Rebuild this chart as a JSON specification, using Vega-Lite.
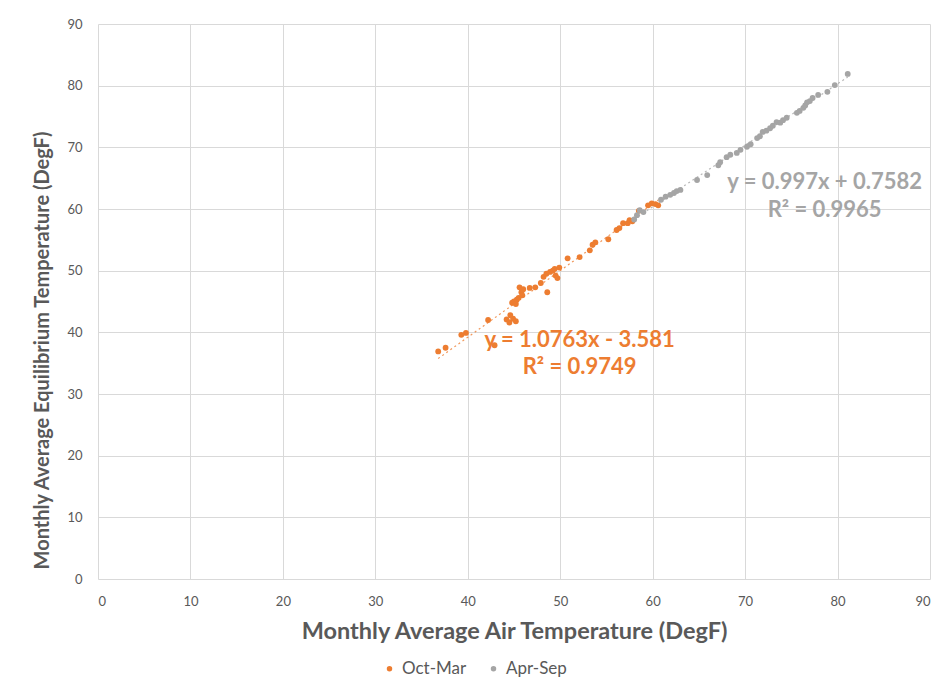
{
  "$schema": "https://vega.github.io/schema/vega-lite/v6.json",
  "autosize": {"type": "none"},
  "width": 832,
  "height": 555,
  "padding": {"left": 98, "top": 24, "right": 11, "bottom": 105},
  "background": "white",
  "config": {
    "font": "Lato",
    "view": {"stroke": null},
    "axis": {
      "gridColor": "#d9d9d9",
      "gridWidth": 1,
      "domain": false,
      "ticks": false,
      "labelColor": "#595959",
      "labelFont": "Lato",
      "labelFontSize": 13,
      "titleColor": "#595959",
      "titleFont": "Lato",
      "titleFontSize": 20,
      "titleFontWeight": "bold"
    }
  },
  "resolve": {"legend": {"color": "independent"}},
  "datasets": {
    "points": [
      {"season": "Oct-Mar", "air": 36.8, "eq": 36.9},
      {"season": "Oct-Mar", "air": 37.6, "eq": 37.5},
      {"season": "Oct-Mar", "air": 39.3, "eq": 39.6},
      {"season": "Oct-Mar", "air": 39.8, "eq": 39.9},
      {"season": "Oct-Mar", "air": 42.2, "eq": 42.0},
      {"season": "Oct-Mar", "air": 42.9, "eq": 37.9},
      {"season": "Oct-Mar", "air": 44.2, "eq": 42.1},
      {"season": "Oct-Mar", "air": 44.5, "eq": 41.6},
      {"season": "Oct-Mar", "air": 44.9, "eq": 42.2},
      {"season": "Oct-Mar", "air": 44.6, "eq": 42.8},
      {"season": "Oct-Mar", "air": 45.2, "eq": 41.8},
      {"season": "Oct-Mar", "air": 44.8, "eq": 44.8},
      {"season": "Oct-Mar", "air": 45.0, "eq": 45.0},
      {"season": "Oct-Mar", "air": 45.3, "eq": 45.3},
      {"season": "Oct-Mar", "air": 45.5, "eq": 45.6},
      {"season": "Oct-Mar", "air": 45.2, "eq": 44.6},
      {"season": "Oct-Mar", "air": 45.8, "eq": 46.5},
      {"season": "Oct-Mar", "air": 45.6, "eq": 47.3},
      {"season": "Oct-Mar", "air": 46.0, "eq": 47.0},
      {"season": "Oct-Mar", "air": 45.9, "eq": 46.0},
      {"season": "Oct-Mar", "air": 46.7, "eq": 47.2},
      {"season": "Oct-Mar", "air": 47.3, "eq": 47.3},
      {"season": "Oct-Mar", "air": 47.9, "eq": 48.0},
      {"season": "Oct-Mar", "air": 48.2, "eq": 49.0},
      {"season": "Oct-Mar", "air": 48.6, "eq": 46.5},
      {"season": "Oct-Mar", "air": 48.5, "eq": 49.5},
      {"season": "Oct-Mar", "air": 48.9, "eq": 49.8},
      {"season": "Oct-Mar", "air": 49.2, "eq": 50.0},
      {"season": "Oct-Mar", "air": 49.5, "eq": 49.2},
      {"season": "Oct-Mar", "air": 49.7, "eq": 48.8},
      {"season": "Oct-Mar", "air": 49.4, "eq": 50.3},
      {"season": "Oct-Mar", "air": 49.9, "eq": 50.5},
      {"season": "Oct-Mar", "air": 50.8, "eq": 52.0},
      {"season": "Oct-Mar", "air": 52.1, "eq": 52.2},
      {"season": "Oct-Mar", "air": 53.2, "eq": 53.3},
      {"season": "Oct-Mar", "air": 53.5, "eq": 54.2},
      {"season": "Oct-Mar", "air": 53.8, "eq": 54.6},
      {"season": "Oct-Mar", "air": 55.2, "eq": 55.1},
      {"season": "Oct-Mar", "air": 56.1, "eq": 56.6},
      {"season": "Oct-Mar", "air": 56.4, "eq": 56.9},
      {"season": "Oct-Mar", "air": 56.8, "eq": 57.7},
      {"season": "Oct-Mar", "air": 57.3, "eq": 57.7},
      {"season": "Oct-Mar", "air": 57.5, "eq": 58.2},
      {"season": "Oct-Mar", "air": 57.8, "eq": 58.0},
      {"season": "Oct-Mar", "air": 58.5, "eq": 59.7},
      {"season": "Oct-Mar", "air": 59.5, "eq": 60.6},
      {"season": "Oct-Mar", "air": 59.9, "eq": 60.9},
      {"season": "Oct-Mar", "air": 60.3, "eq": 60.8},
      {"season": "Oct-Mar", "air": 60.6, "eq": 60.6},
      {"season": "Apr-Sep", "air": 58.0, "eq": 58.3},
      {"season": "Apr-Sep", "air": 58.3, "eq": 59.0},
      {"season": "Apr-Sep", "air": 58.6, "eq": 59.8},
      {"season": "Apr-Sep", "air": 59.0, "eq": 59.5},
      {"season": "Apr-Sep", "air": 60.9, "eq": 61.5},
      {"season": "Apr-Sep", "air": 61.4, "eq": 62.0},
      {"season": "Apr-Sep", "air": 61.9, "eq": 62.3},
      {"season": "Apr-Sep", "air": 62.3, "eq": 62.6},
      {"season": "Apr-Sep", "air": 62.6, "eq": 62.9},
      {"season": "Apr-Sep", "air": 63.0, "eq": 63.1},
      {"season": "Apr-Sep", "air": 64.8, "eq": 64.7},
      {"season": "Apr-Sep", "air": 65.9, "eq": 65.5},
      {"season": "Apr-Sep", "air": 67.1, "eq": 67.1},
      {"season": "Apr-Sep", "air": 67.3, "eq": 67.6},
      {"season": "Apr-Sep", "air": 68.0, "eq": 68.4},
      {"season": "Apr-Sep", "air": 68.4, "eq": 68.8},
      {"season": "Apr-Sep", "air": 69.1, "eq": 69.1},
      {"season": "Apr-Sep", "air": 69.5, "eq": 69.6},
      {"season": "Apr-Sep", "air": 70.2, "eq": 70.1},
      {"season": "Apr-Sep", "air": 70.6, "eq": 70.5},
      {"season": "Apr-Sep", "air": 71.3, "eq": 71.5},
      {"season": "Apr-Sep", "air": 71.6, "eq": 71.8},
      {"season": "Apr-Sep", "air": 71.9, "eq": 72.5},
      {"season": "Apr-Sep", "air": 72.3, "eq": 72.7},
      {"season": "Apr-Sep", "air": 72.7, "eq": 73.1},
      {"season": "Apr-Sep", "air": 73.0, "eq": 73.5},
      {"season": "Apr-Sep", "air": 73.4, "eq": 74.1},
      {"season": "Apr-Sep", "air": 73.8, "eq": 74.0},
      {"season": "Apr-Sep", "air": 74.1, "eq": 74.4},
      {"season": "Apr-Sep", "air": 74.5, "eq": 74.8},
      {"season": "Apr-Sep", "air": 75.6, "eq": 75.6},
      {"season": "Apr-Sep", "air": 75.9, "eq": 75.9},
      {"season": "Apr-Sep", "air": 76.3, "eq": 76.4},
      {"season": "Apr-Sep", "air": 76.5, "eq": 76.8},
      {"season": "Apr-Sep", "air": 76.7, "eq": 77.3},
      {"season": "Apr-Sep", "air": 77.0, "eq": 77.5},
      {"season": "Apr-Sep", "air": 77.3, "eq": 78.0},
      {"season": "Apr-Sep", "air": 77.9, "eq": 78.5},
      {"season": "Apr-Sep", "air": 78.9, "eq": 79.0},
      {"season": "Apr-Sep", "air": 79.7, "eq": 80.1},
      {"season": "Apr-Sep", "air": 81.1, "eq": 81.9}
    ],
    "labels": [
      {"season": "Oct-Mar", "air": 52.1, "eq": 38.8, "label": "y = 1.0763x - 3.581"},
      {"season": "Oct-Mar", "air": 52.1, "eq": 34.3, "label": "R² = 0.9749"},
      {"season": "Apr-Sep", "air": 78.6, "eq": 64.4, "label": "y = 0.997x + 0.7582"},
      {"season": "Apr-Sep", "air": 78.6, "eq": 59.9, "label": "R² = 0.9965"}
    ]
  },
  "layer": [
    {
      "data": {"name": "points"},
      "transform": [{"regression": "eq", "on": "air", "groupby": ["season"]}],
      "mark": {"type": "line", "strokeDash": [2, 3], "strokeWidth": 1.2, "opacity": 0.8},
      "encoding": {
        "x": {"field": "air", "type": "quantitative"},
        "y": {"field": "eq", "type": "quantitative"},
        "color": {"field": "season", "type": "nominal", "legend": null,
          "scale": {"domain": ["Oct-Mar", "Apr-Sep"], "range": ["#ED7D31", "#A5A5A5"]}}
      }
    },
    {
      "data": {"name": "points"},
      "mark": {"type": "circle", "size": 34, "opacity": 1},
      "encoding": {
        "x": {"field": "air", "type": "quantitative",
          "scale": {"domain": [0, 90]},
          "axis": {"values": [0,10,20,30,40,50,60,70,80,90], "title": "Monthly Average Air Temperature (DegF)", "titleFontSize": 23.5, "labelPadding": 16, "titlePadding": 11}},
        "y": {"field": "eq", "type": "quantitative",
          "scale": {"domain": [0, 90]},
          "axis": {"values": [0,10,20,30,40,50,60,70,80,90], "title": "Monthly Average Equilibrium Temperature (DegF)", "labelPadding": 16, "titleX": -46, "titleY": 326, "titleAnchor": "middle"}},
        "color": {"field": "season", "type": "nominal",
          "scale": {"domain": ["Oct-Mar", "Apr-Sep"], "range": ["#ED7D31", "#A5A5A5"]},
          "legend": {"title": null, "orient": "none", "legendX": 283, "legendY": 636, "direction": "horizontal",
            "symbolType": "circle", "symbolSize": 30, "labelFontSize": 17, "labelColor": "#595959", "labelFont": "Lato", "columnPadding": 18}}
      }
    },
    {
      "data": {"name": "labels"},
      "mark": {"type": "text", "fontSize": 22, "fontWeight": "bold", "font": "Lato", "align": "center", "baseline": "middle"},
      "encoding": {
        "x": {"field": "air", "type": "quantitative"},
        "y": {"field": "eq", "type": "quantitative"},
        "text": {"field": "label"},
        "color": {"field": "season", "type": "nominal", "legend": null,
          "scale": {"domain": ["Oct-Mar", "Apr-Sep"], "range": ["#ED7D31", "#A5A5A5"]}}
      }
    }
  ]
}
